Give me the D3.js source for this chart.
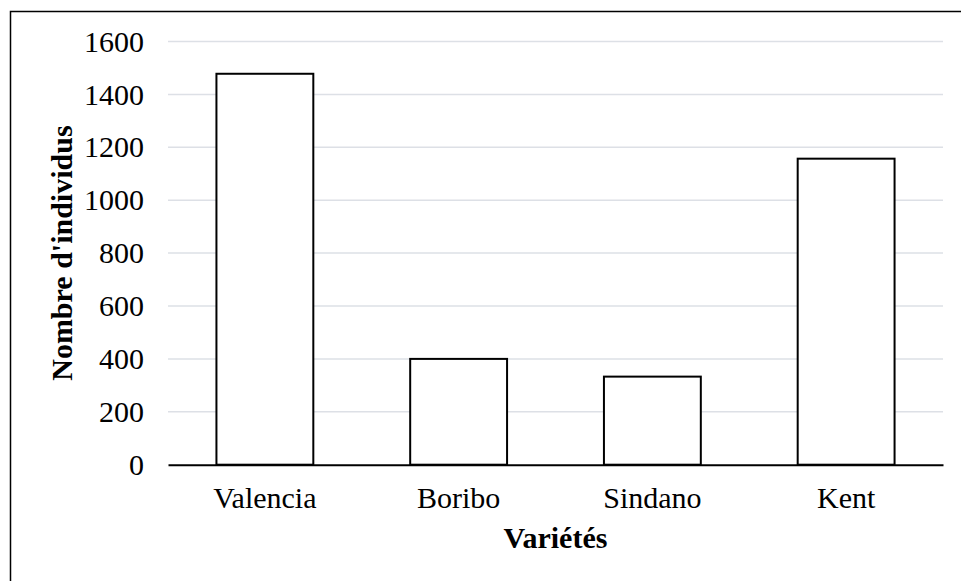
<!DOCTYPE html>
<html>
<head>
<meta charset="utf-8">
<script src="https://cdn.jsdelivr.net/npm/d3@7"></script>
<style>
  html, body { margin: 0; padding: 0; background: #fff; }
  svg { display: block; }
  svg text { font-family: "Liberation Serif", "Times New Roman", Times, serif; fill: #000; }
</style>
</head>
<body>
<svg id="chart" width="961" height="581"></svg>
<script>
// Number of individuals counted per mango variety
const categories = ["Valencia", "Boribo", "Sindano", "Kent"];
const counts = [1478, 400, 333, 1157];
const yTicks = [0, 200, 400, 600, 800, 1000, 1200, 1400, 1600];
const xTitle = "Variétés";
const yTitle = "Nombre d'individus";

const svg = d3.select("#chart");
const W = 961, H = 581;
const margin = { top: 41.5, right: 18, bottom: 116.3, left: 168 };
const serif = "'Liberation Serif', 'Times New Roman', Times, serif";
const fontSize = 30;

// Outer frame of the chart area
svg.append("rect")
  .attr("x", 10.5).attr("y", 11.5)
  .attr("width", W).attr("height", H)
  .attr("fill", "none").attr("stroke", "#000").attr("stroke-width", 1.5);

const x = d3.scaleBand()
  .domain(categories)
  .range([margin.left, W - margin.right])
  .paddingInner(0.5)
  .paddingOuter(0.25);

const y = d3.scaleLinear()
  .domain([0, 1600])
  .range([H - margin.bottom, margin.top]);

// Horizontal gridlines
svg.append("g")
  .selectAll("line")
  .data(yTicks.filter(t => t > 0))
  .join("line")
  .attr("x1", margin.left).attr("x2", W - margin.right)
  .attr("y1", d => y(d)).attr("y2", d => y(d))
  .attr("stroke", "#dde0e6").attr("stroke-width", 1.5);

// Y tick labels
const yAxis = svg.append("g")
  .attr("transform", `translate(${margin.left},0)`)
  .call(d3.axisLeft(y).tickValues(yTicks).tickFormat(d3.format("d")).tickSize(0).tickPadding(24));
yAxis.select(".domain").remove();
yAxis.attr("font-family", serif).attr("font-size", fontSize);
yAxis.selectAll("text")
  .style("font-family", serif)
  .style("font-size", fontSize + "px")
  .attr("fill", "#000");

// Bars
svg.append("g")
  .selectAll("rect")
  .data(categories)
  .join("rect")
  .attr("x", d => x(d))
  .attr("y", (d, i) => y(counts[i]))
  .attr("width", x.bandwidth())
  .attr("height", (d, i) => y(0) - y(counts[i]))
  .attr("fill", "#fff")
  .attr("stroke", "#000")
  .attr("stroke-width", 2);

// X axis line and category labels
const xAxis = svg.append("g")
  .attr("transform", `translate(0,${y(0)})`)
  .call(d3.axisBottom(x).tickSize(0).tickPadding(22));
xAxis.attr("font-family", serif).attr("font-size", fontSize);
xAxis.select(".domain")
  .attr("stroke", "#000").attr("stroke-width", 2);
xAxis.selectAll("text")
  .style("font-family", serif)
  .style("font-size", fontSize + "px")
  .attr("fill", "#000");

// Axis titles
svg.append("text")
  .attr("x", (margin.left + W - margin.right) / 2)
  .attr("y", 548)
  .attr("text-anchor", "middle")
  .style("font-family", serif)
  .style("font-size", fontSize + "px")
  .attr("font-weight", "bold")
  .text(xTitle);

svg.append("text")
  .attr("transform", `translate(72,${(y(0) + y(1600)) / 2}) rotate(-90)`)
  .attr("text-anchor", "middle")
  .style("font-family", serif)
  .style("font-size", fontSize + "px")
  .attr("font-weight", "bold")
  .text(yTitle);
</script>
</body>
</html>
